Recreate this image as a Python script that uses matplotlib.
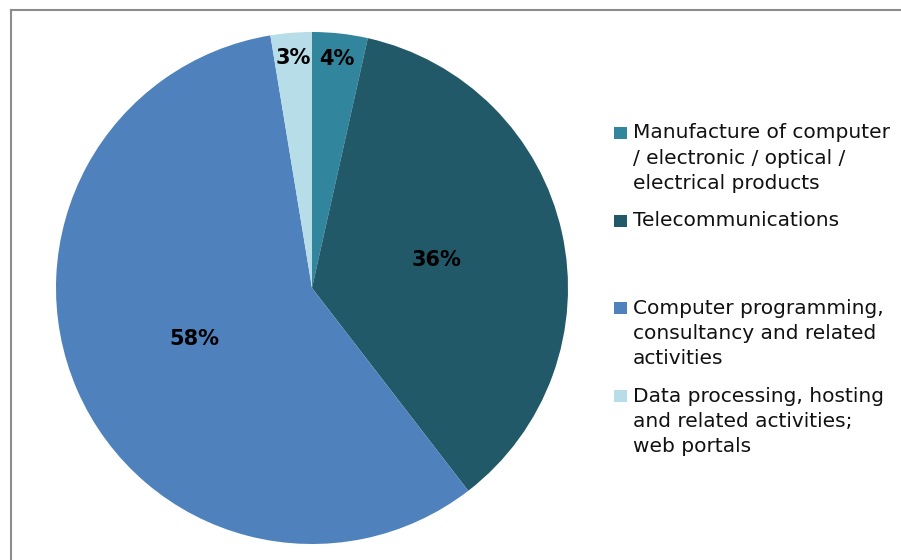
import matplotlib
matplotlib.use("Agg")
import matplotlib.pyplot as plt
from matplotlib.patches import Rectangle
from matplotlib.lines import Line2D
import numpy as np

# ---- data ----
categories = [
    "Manufacture of computer\n/ electronic / optical /\nelectrical products",
    "Telecommunications",
    "Computer programming,\nconsultancy and related\nactivities",
    "Data processing, hosting\nand related activities;\nweb portals",
]
shares = [3.5, 36.05, 57.85, 2.6]
pct_labels = ["4%", "36%", "58%", "3%"]
colors = ["#31859C", "#215968", "#4F81BD", "#B7DEE8"]

W, H = 901, 560
fig = plt.figure(figsize=(W / 100, H / 100), dpi=100)
fig.patch.set_facecolor("white")

def fx(px):
    return px / W

def fy(py):
    return 1 - py / H

# pie axes: centre (312, 288) px, radius 256 px
cx, cy, r = 312, 288, 256
ax = fig.add_axes([fx(cx - r), fy(cy + r), 2 * r / W, 2 * r / H])
wedges, _ = ax.pie(shares, colors=colors, startangle=90, counterclock=False,
                   radius=1, wedgeprops=dict(linewidth=0))
ax.set_xlim(-1, 1)
ax.set_ylim(-1, 1)
ax.axis("off")

for w, v, lab in zip(wedges, shares, pct_labels):
    th = np.deg2rad((w.theta1 + w.theta2) / 2)
    rr = 0.9 if v < 10 else 0.5
    ax.text(rr * np.cos(th), rr * np.sin(th), lab, ha="center", va="center",
            fontsize=15, fontweight="bold", color="black")

# legend (manual, handle aligned with first line)
base0, line_step, entry_step = 138.3, 25.3, 87.8
for i, (lab, c) in enumerate(zip(categories, colors)):
    b = base0 + i * entry_step
    fig.patches.append(Rectangle((fx(614), fy(b + 0.5)), 13 / W, 12 / H,
                                 transform=fig.transFigure, facecolor=c,
                                 edgecolor="none"))
    for j, line in enumerate(lab.split("\n")):
        fig.text(fx(633), fy(b + j * line_step), line, ha="left", va="baseline",
                 fontsize=14.5, color="#111111")

# frame lines (top and left)
fig.lines.append(Line2D([fx(11), 1.0], [fy(9.5), fy(9.5)], transform=fig.transFigure,
                        color="#8c8c8c", linewidth=1.5))
fig.lines.append(Line2D([fx(11), fx(11)], [fy(9.5), 0.0], transform=fig.transFigure,
                        color="#8c8c8c", linewidth=1.5))

fig.savefig("out.png", dpi=100)
